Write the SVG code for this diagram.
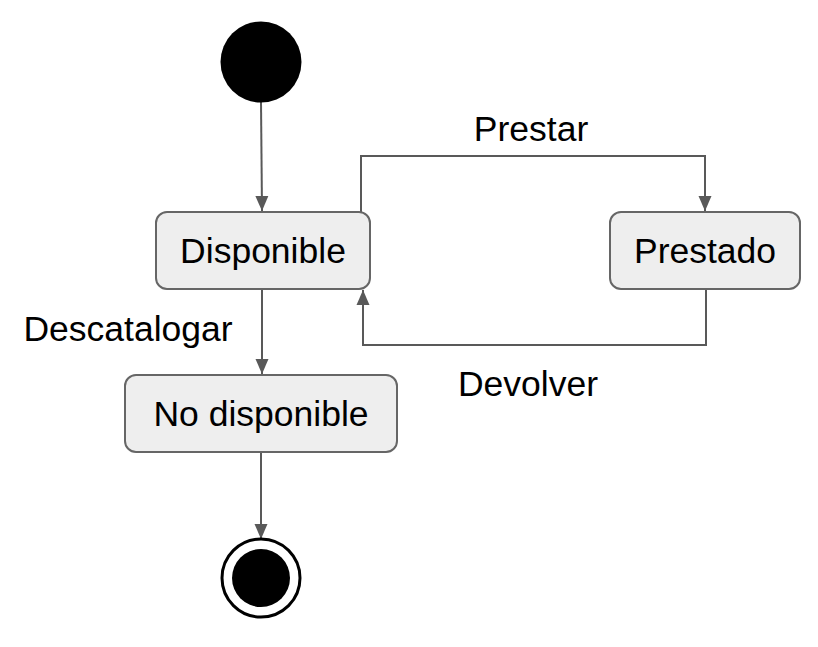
<svg xmlns="http://www.w3.org/2000/svg" width="818" height="647" viewBox="0 0 818 647">
<style>
.box{fill:#eeeeee;stroke:#666666;stroke-width:2}
.lbl{font-family:"Liberation Sans",Arial,sans-serif;font-size:35.5px;fill:#000;text-anchor:middle}
.edge{fill:none;stroke:#595959;stroke-width:2}
</style>
<defs>
<marker id="arr" markerWidth="16" markerHeight="16" viewBox="0 0 16 14" refX="15" refY="7" orient="auto" markerUnits="userSpaceOnUse">
<path d="M0,0.5 L15,7 L0,13.5 Z" fill="#595959"/>
</marker>
</defs>
<rect width="818" height="647" fill="#ffffff"/>
<g id="connectors">
<path class="edge" d="M261,102 L262,211" marker-end="url(#arr)"/>
<path class="edge" d="M262,289 L262,374" marker-end="url(#arr)"/>
<path class="edge" d="M261,452 L261,539" marker-end="url(#arr)"/>
<path class="edge" d="M361,212 L361,156 L705,156 L705,211" marker-end="url(#arr)"/>
<path class="edge" d="M706,289 L706,345 L363,345 L363,290" marker-end="url(#arr)"/>
<text class="lbl" x="531" y="141">Prestar</text>
<text class="lbl" x="528" y="396">Devolver</text>
<text class="lbl" x="128" y="341">Descatalogar</text>
</g>
<g id="start"><circle cx="261" cy="62" r="40.5" fill="#000"/></g>
<g id="disponible"><rect class="box" x="156" y="212" width="214" height="77" rx="11"/><text class="lbl" x="263" y="263">Disponible</text></g>
<g id="prestado"><rect class="box" x="610" y="212" width="190" height="77" rx="11"/><text class="lbl" x="705" y="263">Prestado</text></g>
<g id="nodisponible"><rect class="box" x="125" y="375" width="272" height="77" rx="11"/><text class="lbl" x="261" y="426">No disponible</text></g>
<g id="end"><circle cx="261" cy="578" r="39" fill="#fff" stroke="#000" stroke-width="3"/><circle cx="261" cy="578" r="29" fill="#000"/></g>
</svg>
